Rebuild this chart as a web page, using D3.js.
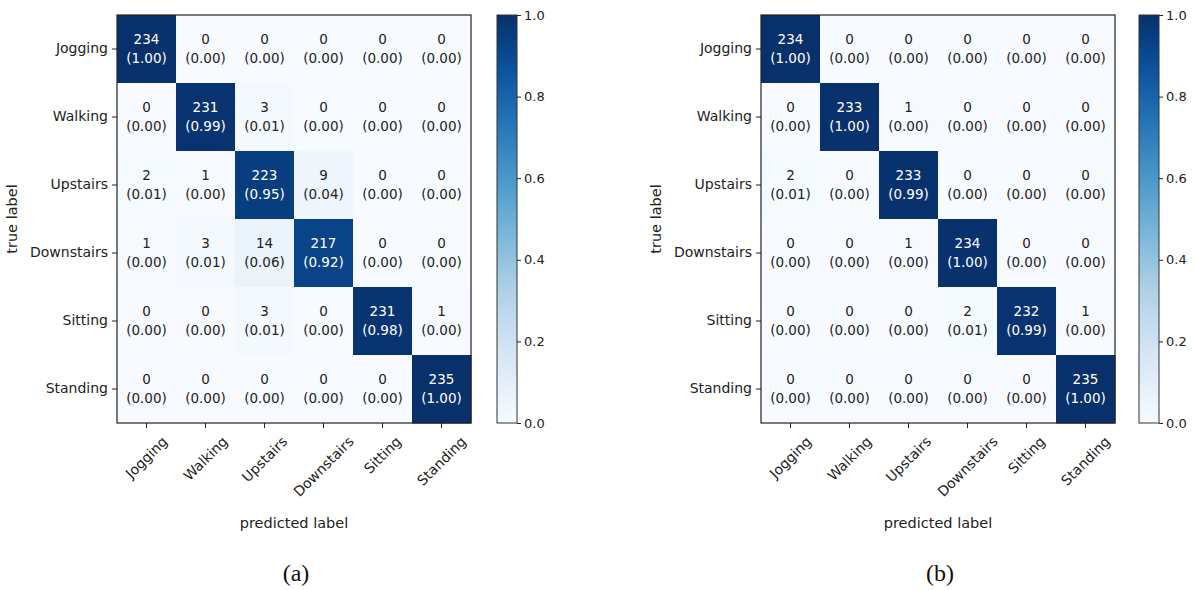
<!DOCTYPE html>
<html>
<head>
  <meta charset="UTF-8">
  <style>
    body { margin: 0; background: white; }
    svg { display: block; font-family: "DejaVu Sans", sans-serif; }
    .tick text { font-family: "DejaVu Sans", sans-serif; font-size: 14px; fill: #222; }
    .cbar .tick text { font-size: 13px; }
    .cell-text { font-size: 13.5px; }
  </style>
</head>
<body>

<svg></svg>
<script src="https://d3js.org/d3.v7.min.js"></script>

<script>

let width = 1194, height = 590;

let svg = d3.select("svg")
    .attr("width", width)
    .attr("height", height);

// class names (rows = true label, columns = predicted label)
let classes = ["Jogging", "Walking", "Upstairs", "Downstairs", "Sitting", "Standing"];

// confusion matrix counts, panel (a)
let countsA = [
  [234, 0, 0, 0, 0, 0],
  [0, 231, 3, 0, 0, 0],
  [2, 1, 223, 9, 0, 0],
  [1, 3, 14, 217, 0, 0],
  [0, 0, 3, 0, 231, 1],
  [0, 0, 0, 0, 0, 235]
];

// confusion matrix counts, panel (b)
let countsB = [
  [234, 0, 0, 0, 0, 0],
  [0, 233, 1, 0, 0, 0],
  [2, 0, 233, 0, 0, 0],
  [0, 0, 1, 234, 0, 0],
  [0, 0, 0, 2, 232, 1],
  [0, 0, 0, 0, 0, 235]
];

let colorTicks = [0, 0.2, 0.4, 0.6, 0.8, 1.0];
let panelLetters = ["(a)", "(b)"];

let color = d3.scaleSequential(d3.interpolateBlues).domain([0, 1]);

function drawPanel(counts, left, cbLeft, letter, gradId) {
  let top = 15, mw = 354, mh = 408;

  let x = d3.scaleBand().domain(classes).range([left, left + mw]);
  let y = d3.scaleBand().domain(classes).range([top, top + mh]);

  // row-normalised values
  let cells = [];
  counts.forEach((row, i) => {
    let sum = d3.sum(row);
    row.forEach((c, j) => {
      cells.push({ row: classes[i], col: classes[j], count: c, norm: c / sum });
    });
  });

  let g = svg.append("g");

  g.selectAll("rect.cell")
    .data(cells)
    .enter().append("rect")
    .attr("class", "cell")
    .attr("x", d => x(d.col))
    .attr("y", d => y(d.row))
    .attr("width", x.bandwidth() + 0.5)
    .attr("height", y.bandwidth() + 0.5)
    .attr("fill", d => color(d.norm));

  let labels = g.selectAll("text.cell-text")
    .data(cells)
    .enter().append("text")
    .attr("class", "cell-text")
    .attr("text-anchor", "middle")
    .attr("fill", d => d.norm > 0.5 ? "white" : "#222");

  labels.append("tspan")
    .attr("x", d => x(d.col) + x.bandwidth() / 2)
    .attr("y", d => y(d.row) + y.bandwidth() / 2 - 9.5)
    .attr("dy", "0.35em")
    .text(d => d.count);

  labels.append("tspan")
    .attr("x", d => x(d.col) + x.bandwidth() / 2)
    .attr("y", d => y(d.row) + y.bandwidth() / 2 + 9.5)
    .attr("dy", "0.35em")
    .text(d => "(" + d.norm.toFixed(2) + ")");

  // frame
  g.append("rect")
    .attr("x", left).attr("y", top)
    .attr("width", mw).attr("height", mh)
    .attr("fill", "none")
    .attr("stroke", "#222")
    .attr("stroke-width", 1.2);

  // y axis
  let yAxis = g.append("g")
    .attr("transform", `translate(${left},0)`)
    .call(d3.axisLeft(y).tickSize(5).tickPadding(4));
  yAxis.select(".domain").remove();
  yAxis.selectAll("line").attr("stroke", "#222");

  // x axis with labels rotated 45 deg, centred on the tick
  let xAxis = g.append("g")
    .attr("transform", `translate(0,${top + mh})`)
    .call(d3.axisBottom(x).tickSize(5));
  xAxis.select(".domain").remove();
  xAxis.selectAll("line").attr("stroke", "#222");
  xAxis.selectAll(".tick text").each(function() {
    let t = d3.select(this);
    let w = this.getComputedTextLength();
    let h = 14;
    let half = (w + h) / Math.SQRT2 / 2;
    t.attr("text-anchor", "middle")
     .attr("y", 0).attr("dy", "0.35em")
     .attr("transform", `translate(0,${11 + half}) rotate(-45)`);
  });

  // axis titles
  g.append("text")
    .attr("x", left + mw / 2)
    .attr("y", 528)
    .attr("text-anchor", "middle")
    .attr("font-size", 14.5)
    .attr("fill", "#222")
    .text("predicted label");

  g.append("text")
    .attr("transform", `translate(${left - 100},${top + mh / 2}) rotate(-90)`)
    .attr("text-anchor", "middle")
    .attr("font-size", 14.5)
    .attr("fill", "#222")
    .text("true label");

  g.append("text")
    .attr("x", left + mw / 2 + 2)
    .attr("y", 581)
    .attr("text-anchor", "middle")
    .attr("font-family", "'Liberation Serif', serif")
    .attr("font-size", 24)
    .attr("fill", "#111")
    .text(letter);

  // colour bar
  let cbW = 20;
  let cy = d3.scaleLinear().domain([0, 1]).range([top + mh, top]);

  let grad = svg.append("defs").append("linearGradient")
    .attr("id", gradId)
    .attr("x1", 0).attr("y1", 1).attr("x2", 0).attr("y2", 0);
  grad.selectAll("stop")
    .data(d3.range(0, 1.0001, 0.05))
    .enter().append("stop")
    .attr("offset", d => d * 100 + "%")
    .attr("stop-color", d => color(d));

  g.append("rect")
    .attr("x", cbLeft).attr("y", top)
    .attr("width", cbW).attr("height", mh)
    .attr("fill", `url(#${gradId})`)
    .attr("stroke", "#333")
    .attr("stroke-width", 1);

  let cAxis = g.append("g")
    .attr("class", "cbar")
    .attr("transform", `translate(${cbLeft + cbW},0)`)
    .call(d3.axisRight(cy).tickValues(colorTicks).tickFormat(d3.format(".1f")).tickSize(4).tickPadding(3));
  cAxis.select(".domain").remove();
  cAxis.selectAll("line").attr("stroke", "#222");
}

drawPanel(countsA, 117, 497, panelLetters[0], "grad-a");
drawPanel(countsB, 761, 1139, panelLetters[1], "grad-b");

</script>

</body>
</html>
